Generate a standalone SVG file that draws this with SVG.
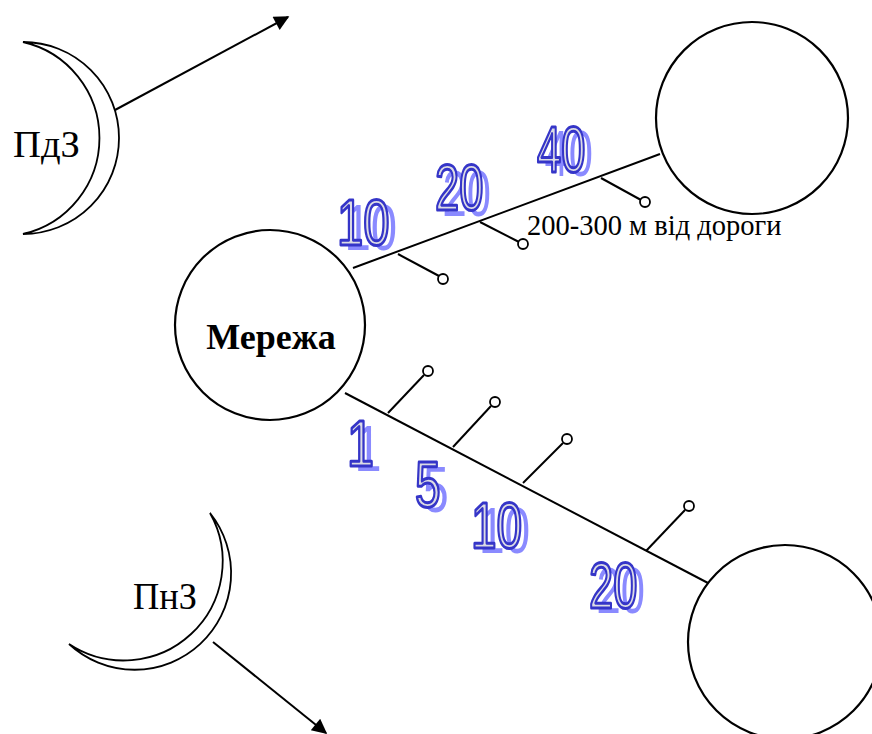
<svg xmlns="http://www.w3.org/2000/svg" width="872" height="734" viewBox="0 0 872 734">
  <style>
    .ln{stroke:#000;stroke-width:2;fill:none}
    .big{stroke:#000;stroke-width:2.2;fill:#fff}
    .pin{stroke:#000;stroke-width:1.8;fill:#fff}
    .moon{stroke:#000;stroke-width:1.8;fill:#fff}
    .tr{font-family:"Liberation Serif","Times New Roman",serif;fill:#000}
    .num{font-family:"Liberation Sans",Arial,sans-serif;font-size:64px}
    .sh{fill:#8a8aff}
    .fr{fill:#dcdce4;stroke:#3535c8;stroke-width:3;stroke-linejoin:round}
  </style>
  <defs>
    <marker id="ah" viewBox="0 0 10 10" refX="9" refY="5" markerWidth="9" markerHeight="7.5" markerUnits="strokeWidth" orient="auto">
      <path d="M0,0 L10,5 L0,10 Z" fill="#000"/>
    </marker>
  </defs>
  <rect width="872" height="734" fill="#fff"/>

  <g id="connectors">
    <line class="ln" x1="353" y1="268" x2="660" y2="154"/>
    <line class="ln" x1="398" y1="254" x2="439" y2="276"/>
    <line class="ln" x1="480" y1="222" x2="519" y2="242"/>
    <line class="ln" x1="601" y1="178" x2="641" y2="200"/>
    <line class="ln" x1="345" y1="393" x2="708" y2="583"/>
    <line class="ln" x1="388" y1="413" x2="424" y2="375"/>
    <line class="ln" x1="453" y1="447" x2="491" y2="406"/>
    <line class="ln" x1="523" y1="483" x2="563" y2="443"/>
    <line class="ln" x1="646" y1="551" x2="685" y2="510"/>
    <line class="ln" x1="115" y1="110" x2="288" y2="17" marker-end="url(#ah)"/>
    <line class="ln" x1="213" y1="642" x2="326" y2="733" marker-end="url(#ah)"/>
  </g>

  <g id="pins">
    <circle class="pin" cx="443" cy="279" r="5"/>
    <circle class="pin" cx="523" cy="244" r="5"/>
    <circle class="pin" cx="645" cy="202" r="5"/>
    <circle class="pin" cx="428" cy="371" r="5"/>
    <circle class="pin" cx="495" cy="402" r="5"/>
    <circle class="pin" cx="567" cy="439" r="5"/>
    <circle class="pin" cx="689" cy="506" r="5"/>
  </g>

  <g id="node-merezha">
    <circle class="big" cx="270" cy="325" r="95"/>
    <text class="tr" x="271" y="349" font-size="36" font-weight="bold" text-anchor="middle">Мережа</text>
  </g>
  <g id="node-top-right">
    <circle class="big" cx="752" cy="118" r="96"/>
  </g>
  <g id="node-bottom-right">
    <circle class="big" cx="785" cy="642" r="97"/>
  </g>

  <g id="node-pdz">
    <path class="moon" d="M23,42 A96,96 0 0 1 23,234 A98.5,98.5 0 0 0 23,42 Z"/>
    <text class="tr" x="13" y="157" font-size="37" textLength="67" lengthAdjust="spacingAndGlyphs">ПдЗ</text>
  </g>
  <g id="node-pnz">
    <path class="moon" d="M210,513 A96.5,96.5 0 0 1 69,644 A99,99 0 0 0 210,513 Z"/>
    <text class="tr" x="133" y="609" font-size="37" textLength="64" lengthAdjust="spacingAndGlyphs">ПнЗ</text>
  </g>

  <g id="road-label">
    <text class="tr" x="527" y="235" font-size="28.5">200-300 м від дороги</text>
  </g>

  <g id="labels-top">
    <g transform="translate(337,245) scale(0.74,1)">
      <text class="num sh" x="10" y="5">10</text>
      <text class="num fr" x="0" y="0">10</text>
    </g>
    <g transform="translate(435,210) scale(0.68,1)">
      <text class="num sh" x="11" y="6">20</text>
      <text class="num fr" x="0" y="0">20</text>
    </g>
    <g transform="translate(537,172) scale(0.68,1)">
      <text class="num sh" x="11" y="4">40</text>
      <text class="num fr" x="0" y="0">40</text>
    </g>
  </g>
  <g id="labels-bottom">
    <g transform="translate(347,466) scale(0.76,1)">
      <text class="num sh" x="10" y="5">1</text>
      <text class="num fr" x="0" y="0">1</text>
    </g>
    <g transform="translate(415,507) scale(0.72,1)">
      <text class="num sh" x="11" y="5">5</text>
      <text class="num fr" x="0" y="0">5</text>
    </g>
    <g transform="translate(471,548) scale(0.72,1)">
      <text class="num sh" x="11" y="5">10</text>
      <text class="num fr" x="0" y="0">10</text>
    </g>
    <g transform="translate(589,608) scale(0.68,1)">
      <text class="num sh" x="11" y="5">20</text>
      <text class="num fr" x="0" y="0">20</text>
    </g>
  </g>
</svg>
